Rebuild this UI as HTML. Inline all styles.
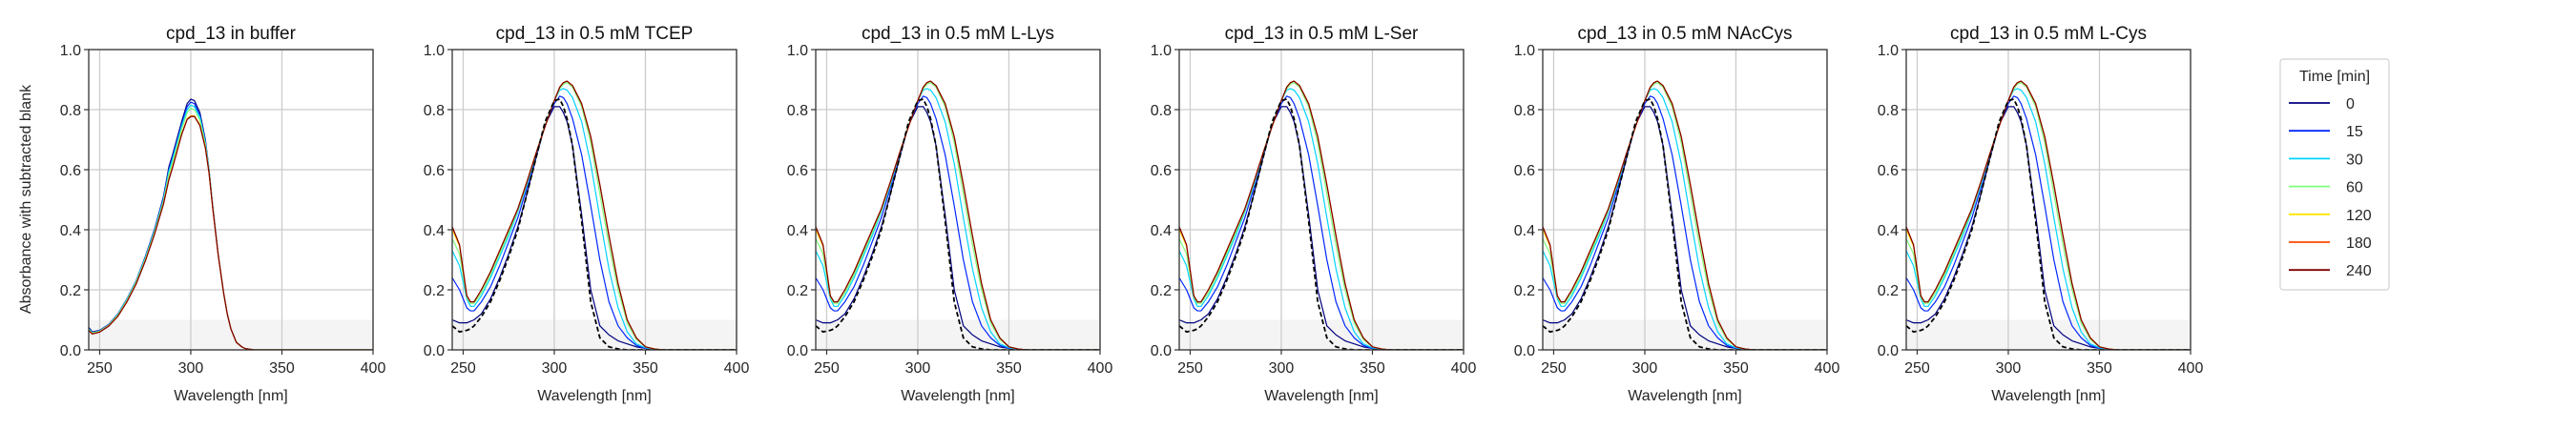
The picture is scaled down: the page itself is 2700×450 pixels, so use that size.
<!DOCTYPE html>
<html><head><meta charset="utf-8">
<style>
html,body{margin:0;padding:0;background:#fff;}
svg{display:block;font-family:"Liberation Sans","DejaVu Sans",sans-serif;}
</style></head>
<body>
<svg id="fig" width="2700" height="450" viewBox="0 0 2700 450" xmlns="http://www.w3.org/2000/svg"></svg>
<script>
// ---- data ----
const titles = ["cpd_13 in buffer","cpd_13 in 0.5 mM TCEP","cpd_13 in 0.5 mM L-Lys","cpd_13 in 0.5 mM L-Ser","cpd_13 in 0.5 mM NAcCys","cpd_13 in 0.5 mM L-Cys"];
const times = ["0","15","30","60","120","180","240"];
const xTicks = [250,300,350,400];
const yTicks = [0.0,0.2,0.4,0.6,0.8,1.0];
const yTickLabels = ["0.0","0.2","0.4","0.6","0.8","1.0"];
// buffer panel
const wlB = [244,246,250,255,260,265,270,275,280,285,288,290,295,298,300,302,305,308,310,312,315,318,320,322,325,328,330,335,350,400];
const buf0   = [0.075,0.06,0.065,0.085,0.12,0.17,0.23,0.31,0.40,0.51,0.61,0.65,0.76,0.82,0.835,0.83,0.79,0.70,0.60,0.48,0.32,0.19,0.12,0.07,0.025,0.01,0.004,0,0,0];
const buf15  = [0.072,0.058,0.064,0.084,0.119,0.169,0.229,0.308,0.398,0.505,0.60,0.64,0.75,0.81,0.825,0.82,0.78,0.695,0.60,0.48,0.32,0.19,0.12,0.07,0.025,0.01,0.004,0,0,0];
const buf30  = [0.07,0.057,0.063,0.083,0.118,0.168,0.228,0.306,0.395,0.50,0.595,0.635,0.745,0.80,0.815,0.81,0.775,0.69,0.60,0.48,0.32,0.19,0.12,0.07,0.025,0.01,0.004,0,0,0];
const buf60  = [0.068,0.056,0.062,0.082,0.116,0.165,0.225,0.302,0.39,0.495,0.585,0.625,0.735,0.79,0.805,0.80,0.765,0.685,0.595,0.478,0.32,0.19,0.12,0.07,0.025,0.01,0.004,0,0,0];
const buf120 = [0.066,0.054,0.06,0.08,0.113,0.162,0.221,0.297,0.385,0.487,0.57,0.61,0.72,0.77,0.78,0.78,0.75,0.675,0.59,0.475,0.318,0.19,0.12,0.07,0.025,0.01,0.004,0,0,0];
const buf180 = [0.065,0.053,0.06,0.08,0.112,0.161,0.22,0.296,0.384,0.486,0.568,0.608,0.718,0.768,0.778,0.778,0.748,0.673,0.59,0.475,0.318,0.19,0.12,0.07,0.025,0.01,0.004,0,0,0];
const buf240 = [0.065,0.053,0.059,0.079,0.112,0.16,0.219,0.295,0.383,0.485,0.567,0.607,0.717,0.767,0.777,0.777,0.747,0.672,0.59,0.475,0.318,0.19,0.12,0.07,0.025,0.01,0.004,0,0,0];
// thiol / additive panels
const wlT = [244,248,252,254,256,260,265,270,275,280,285,290,295,300,303,305,307,310,315,320,325,330,335,340,345,350,355,360,380,400];
const t0   = [0.10,0.09,0.09,0.095,0.10,0.12,0.17,0.24,0.32,0.41,0.52,0.64,0.75,0.81,0.81,0.79,0.76,0.68,0.45,0.20,0.08,0.05,0.03,0.02,0.01,0.005,0,0,0,0];
const t15  = [0.24,0.20,0.14,0.13,0.13,0.16,0.21,0.28,0.36,0.44,0.54,0.65,0.75,0.82,0.845,0.84,0.82,0.77,0.65,0.48,0.30,0.16,0.08,0.04,0.015,0.005,0,0,0,0];
const t30  = [0.33,0.28,0.17,0.145,0.145,0.18,0.24,0.31,0.38,0.46,0.55,0.65,0.75,0.83,0.865,0.87,0.865,0.84,0.76,0.62,0.44,0.27,0.14,0.06,0.02,0.007,0.002,0,0,0];
const t60  = [0.37,0.32,0.175,0.155,0.155,0.19,0.25,0.32,0.39,0.465,0.555,0.655,0.75,0.83,0.87,0.885,0.89,0.875,0.81,0.69,0.52,0.35,0.20,0.09,0.035,0.01,0.003,0,0,0];
const t120 = [0.40,0.345,0.18,0.16,0.16,0.20,0.26,0.33,0.40,0.47,0.56,0.655,0.745,0.83,0.875,0.89,0.895,0.88,0.82,0.71,0.55,0.38,0.22,0.10,0.04,0.01,0.003,0,0,0];
const t180 = [0.41,0.35,0.18,0.16,0.16,0.20,0.26,0.33,0.40,0.47,0.56,0.655,0.745,0.83,0.875,0.89,0.895,0.88,0.82,0.71,0.55,0.38,0.22,0.10,0.04,0.01,0.003,0,0,0];
const t240 = [0.41,0.35,0.18,0.16,0.16,0.20,0.26,0.33,0.40,0.47,0.56,0.655,0.745,0.83,0.875,0.89,0.895,0.88,0.82,0.71,0.55,0.38,0.22,0.10,0.04,0.01,0.003,0,0,0];
const tRef = [0.08,0.06,0.065,0.07,0.08,0.11,0.16,0.23,0.31,0.40,0.52,0.64,0.76,0.83,0.835,0.81,0.77,0.68,0.43,0.16,0.04,0.01,0.003,0,0,0,0,0,0,0];

const colors = ["#00007f","#0026ff","#00d4ff","#7dff7a","#ffe500","#ff4a00","#7f0000"];
const bufSeries = [buf0,buf15,buf30,buf60,buf120,buf180,buf240];
const tSeries = [t0,t15,t30,t60,t120,t180,t240];

// ---- drawing ----
const NS="http://www.w3.org/2000/svg";
const svg=document.getElementById('fig');
function el(tag,attrs,parent){const e=document.createElementNS(NS,tag);for(const k in attrs)e.setAttribute(k,attrs[k]);(parent||svg).appendChild(e);return e;}
const panelLeft=[93,474,855,1236,1617,1998];
const PW=298, TOP=52, BOT=367;
const XMIN=244, XMAX=400;
const txt="#262626";

panelLeft.forEach((L,pi)=>{
  const g=el('g',{});
  
  
  const xs=v=>L+(v-XMIN)/(XMAX-XMIN)*PW;
  const ys=v=>BOT-v*(BOT-TOP);
  // shaded band
  const band=el('rect',{x:L,y:ys(0.1),width:PW,height:ys(0)-ys(0.1),fill:"#f4f4f4"},g);
  
  
  // grid
  yTicks.forEach(t=>{el('line',{x1:L,x2:L+PW,y1:ys(t),y2:ys(t),stroke:"#cccccc","stroke-width":1.3},g);});
  xTicks.forEach(t=>{el('line',{x1:xs(t),x2:xs(t),y1:TOP,y2:BOT,stroke:"#cccccc","stroke-width":1.3},g);});
  // series
  const clip='clip'+pi;
  const cp=el('clipPath',{id:clip},g);el('rect',{x:L,y:TOP,width:PW,height:BOT-TOP},cp);
  const wl = pi===0?wlB:wlT;
  const series = pi===0?bufSeries:tSeries;
  series.forEach((s,si)=>{
    const d=s.map((v,i)=>(i?'L':'M')+xs(wl[i]).toFixed(2)+','+ys(v).toFixed(2)).join('');
    const p=el('path',{d:d,fill:"none",stroke:colors[si],"stroke-width":1.2,"stroke-linejoin":"round","clip-path":"url(#"+clip+")"},g);
    
    
  });
  if(pi>0){
    const d=tRef.map((v,i)=>(i?'L':'M')+xs(wlT[i]).toFixed(2)+','+ys(v).toFixed(2)).join('');
    const p=el('path',{d:d,fill:"none",stroke:"#000","stroke-width":1.8,"stroke-dasharray":"5,3","clip-path":"url(#"+clip+")"},g);
    
    
  }
  // frame
  el('rect',{x:L,y:TOP,width:PW,height:BOT-TOP,fill:"none",stroke:"#333","stroke-width":1.3},g);
  // ticks
  yTicks.forEach((t,i)=>{
    el('line',{x1:L-5,x2:L,y1:ys(t),y2:ys(t),stroke:"#333","stroke-width":1.2},g);
    const tl=el('text',{x:L-8,y:ys(t)+6,"text-anchor":"end","font-size":16,fill:txt},g);tl.textContent=yTickLabels[i];
    
    
  });
  xTicks.forEach(t=>{
    el('line',{x1:xs(t),x2:xs(t),y1:BOT,y2:BOT+5,stroke:"#333","stroke-width":1.2},g);
    const tl=el('text',{x:xs(t),y:BOT+24,"text-anchor":"middle","font-size":16,fill:txt},g);tl.textContent=t;
    
    
  });
  const xl=el('text',{x:L+PW/2,y:BOT+53,"text-anchor":"middle","font-size":16,fill:txt},g);xl.textContent="Wavelength [nm]";
  
  
  const tt=el('text',{x:L+PW/2,y:TOP-11,"text-anchor":"middle","font-size":19,fill:"#111"},g);tt.textContent=titles[pi];
  
  
});
// y label
const yl=el('text',{x:0,y:0,"text-anchor":"middle","font-size":16,fill:txt,transform:"translate(32,209) rotate(-90)"});
yl.textContent="Absorbance with subtracted blank";


// legend
const lg=el('g',{});


el('rect',{x:2390,y:62,width:114,height:242,rx:3,fill:"#fff",stroke:"#d0d0d0","stroke-width":1.2},lg);
const lt=el('text',{x:2447,y:85,"text-anchor":"middle","font-size":16,fill:txt},lg);lt.textContent="Time [min]";


times.forEach((t,i)=>{
  const y=108+i*29.2;
  const e=el('g',{},lg);
  
  
  el('line',{x1:2399,x2:2442,y1:y,y2:y,stroke:colors[i],"stroke-width":1.8},e);
  const tx=el('text',{x:2459,y:y+6,"font-size":16,fill:txt},e);tx.textContent=t;
});
</script>
</body></html>
